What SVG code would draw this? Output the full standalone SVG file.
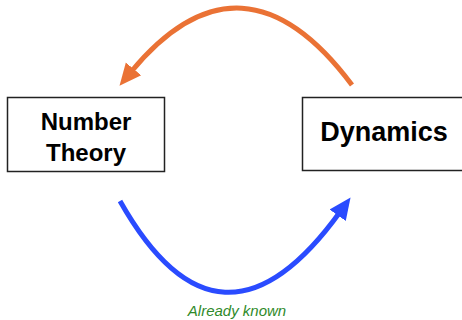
<svg xmlns="http://www.w3.org/2000/svg" width="462" height="320" viewBox="0 0 462 320">
<style>
.box{fill:#fff;stroke:#222;stroke-width:1.5}
.lbl{font-family:"Liberation Sans",Arial,sans-serif;font-weight:bold;fill:#000;text-anchor:middle}
.note{font-family:"Liberation Sans",Arial,sans-serif;font-style:italic;font-size:15px;fill:#2f8a2a;text-anchor:middle}
</style>
<defs>
<marker id="ho" markerUnits="userSpaceOnUse" markerWidth="24" markerHeight="24" refX="4" refY="10" orient="auto" viewBox="0 0 24 20">
<path d="M0,0 L22,10 L0,20 Z" fill="#EA7235"/>
</marker>
<marker id="hb" markerUnits="userSpaceOnUse" markerWidth="24" markerHeight="24" refX="4" refY="10" orient="auto" viewBox="0 0 24 20">
<path d="M0,0 L22,10 L0,20 Z" fill="#2A4BFF"/>
</marker>
</defs>
<g id="number-theory">
<rect class="box" x="7.5" y="97.5" width="157" height="74"/>
<text class="lbl" x="86" y="130" font-size="24">Number</text>
<text class="lbl" x="86" y="161" font-size="24">Theory</text>
</g>
<g id="dynamics">
<rect class="box" x="302.5" y="97.5" width="165" height="73"/>
<text class="lbl" x="384" y="141" font-size="27">Dynamics</text>
</g>
<g id="connectors">
<path d="M352,85 Q242,-62 131,72" fill="none" stroke="#EA7235" stroke-width="5" marker-end="url(#ho)"/>
<path d="M120,201 Q220,378 340,212" fill="none" stroke="#2A4BFF" stroke-width="5" marker-end="url(#hb)"/>
<text class="note" x="237" y="316">Already known</text>
</g>
</svg>
